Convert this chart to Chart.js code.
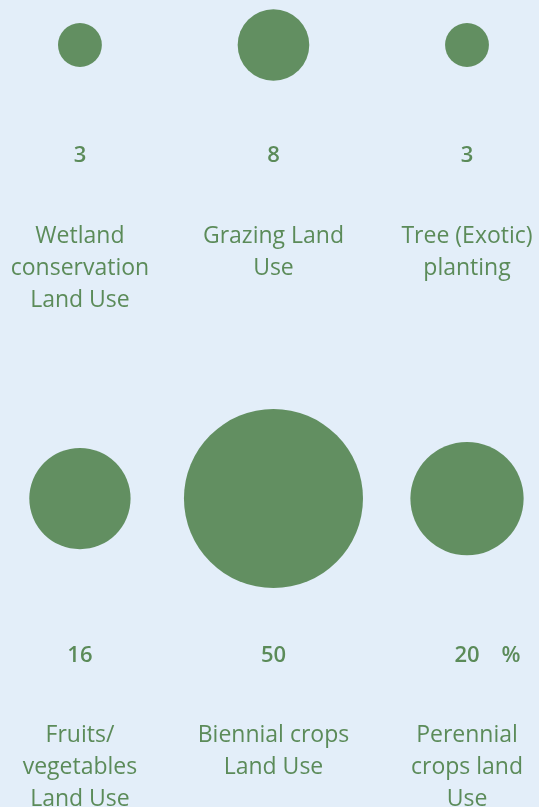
<!DOCTYPE html>
<html>
<head>
<meta charset="utf-8">
<script src="https://cdn.jsdelivr.net/npm/chart.js@4"></script>
<style>
  html, body { margin: 0; padding: 0; background: #e3eef9; }
  #wrap { width: 539px; height: 807px; position: relative; }
</style>
</head>
<body>
<div id="wrap"><canvas id="bubbles"></canvas></div>
<script>
// land use shares, two rows of three
var labels = [
  ['Wetland', 'conservation', 'Land Use'],
  ['Grazing Land', 'Use'],
  ['Tree (Exotic)', 'planting'],
  ['Fruits/', 'vegetables', 'Land Use'],
  ['Biennial crops', 'Land Use'],
  ['Perennial', 'crops land', 'Use']
];
var values = [3, 8, 3, 16, 50, 20];
var columns = [0, 1, 2, 0, 1, 2];
var rows = [0, 0, 0, 1, 1, 1];
var suffix = ['', '', '', '', '', '%'];

var green = '#628f61';
var textGreen = '#5b8b59';

// bubble area proportional to value
function radiusFor(v) {
  return 12.66 * Math.sqrt(v);
}

var points = values.map(function (v, i) {
  return { x: columns[i], y: rows[i], v: v };
});

var valueText = {
  id: 'valueText',
  afterDatasetsDraw: function (chart) {
    var ctx = chart.ctx;
    var meta = chart.getDatasetMeta(0);
    var numberOffset = [111, 157];
    ctx.save();
    ctx.fillStyle = textGreen;
    ctx.textAlign = 'center';
    ctx.textBaseline = 'middle';
    meta.data.forEach(function (el, i) {
      var x = el.x;
      var ny = el.y + numberOffset[rows[i]];
      ctx.font = '600 22px "Open Sans"';
      ctx.fillText(String(values[i]), x, ny);
      if (suffix[i]) {
        ctx.fillText(suffix[i], x + 44, ny);
      }
      ctx.font = '400 23px "Open Sans"';
      labels[i].forEach(function (line, k) {
        ctx.fillText(line, x, ny + 80 + k * 32);
      });
    });
    ctx.restore();
  }
};

new Chart(document.getElementById('bubbles'), {
  type: 'bubble',
  data: {
    datasets: [{
      data: points,
      backgroundColor: green,
      borderWidth: 0,
      clip: false,
      radius: function (c) { return radiusFor(c.raw.v); },
      hoverRadius: 0
    }]
  },
  options: {
    responsive: true,
    maintainAspectRatio: false,
    animation: false,
    layout: { padding: 0, autoPadding: false },
    plugins: { legend: { display: false }, tooltip: { enabled: false } },
    scales: {
      x: { type: 'linear', min: -0.413, max: 2.372, display: false },
      y: { type: 'linear', min: -0.0992, max: 1.680, reverse: true, display: false }
    }
  },
  plugins: [valueText]
});
</script>
</body>
</html>
